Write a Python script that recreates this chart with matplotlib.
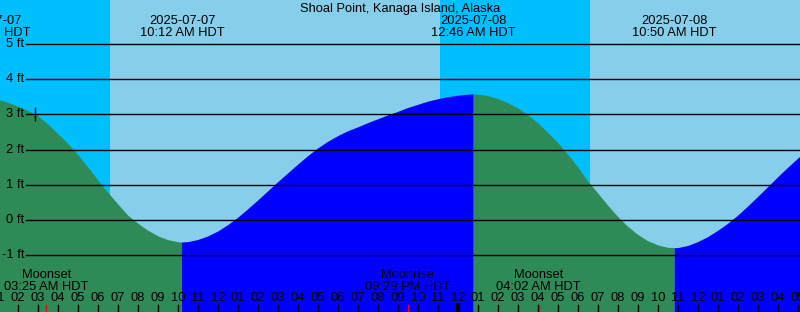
import numpy as np
import matplotlib
matplotlib.use("Agg")
import matplotlib.pyplot as plt

plt.rcParams['font.family'] = ['Liberation Sans', 'DejaVu Sans']

title = 'Shoal Point, Kanaga Island, Alaska'

# hours since 2025-07-07 00:00 HDT, tide height in ft
hours = [1.0, 1.5, 2.0, 2.5, 3.0, 3.5, 4.0, 4.5, 5.0, 5.5, 6.0, 6.5, 7.0, 7.5,
         8.0, 8.5, 9.0, 9.5, 10.0, 10.2, 10.5, 11.0, 11.5, 12.0, 12.5, 13.0,
         13.5, 14.0, 14.5, 15.0, 15.5, 16.0, 16.5, 17.0, 17.5, 18.0, 18.5,
         19.0, 19.5, 20.0, 20.5, 21.0, 21.5, 22.0, 22.5, 23.0, 23.5, 24.0,
         24.5, 24.77, 25.0, 25.5, 26.0, 26.5, 27.0, 27.5, 28.0, 28.5, 29.0,
         29.5, 30.0, 30.5, 31.0, 31.5, 32.0, 32.5, 33.0, 33.5, 34.0, 34.5,
         34.83, 35.0, 35.5, 36.0, 36.5, 37.0, 37.5, 38.0, 38.5, 39.0, 39.5,
         40.0, 40.5, 41.0, 41.5, 42.0]
heights = [3.42, 3.33, 3.22, 3.10, 2.95, 2.72, 2.45, 2.17, 1.85, 1.50, 1.13,
           0.78, 0.45, 0.13, -0.10, -0.30, -0.46, -0.57, -0.63, -0.64, -0.63,
           -0.57, -0.47, -0.33, -0.15, 0.06, 0.30, 0.55, 0.81, 1.07, 1.32,
           1.57, 1.81, 2.03, 2.22, 2.38, 2.52, 2.63, 2.75, 2.86, 2.97, 3.07,
           3.18, 3.27, 3.36, 3.43, 3.49, 3.53, 3.56, 3.57, 3.56, 3.52, 3.44,
           3.32, 3.17, 2.98, 2.75, 2.48, 2.19, 1.86, 1.50, 1.10, 0.76, 0.41,
           0.09, -0.19, -0.42, -0.60, -0.72, -0.79, -0.80, -0.80, -0.74, -0.63,
           -0.49, -0.31, -0.11, 0.12, 0.38, 0.65, 0.93, 1.21, 1.48, 1.74, 1.98,
           2.20]

# tide events (hour, date label, time label)
tide_hours = [0.5, 10.2, 24.77, 34.83]
tide_dates = ['2025-07-07', '2025-07-07', '2025-07-08', '2025-07-08']
tide_times = ['12:30 AM HDT', '10:12 AM HDT', '12:46 AM HDT', '10:50 AM HDT']

# day / night
sun_hours = [6.6, 23.1, 30.6]   # sunrise, sunset, sunrise

# moon events
moon_hours = [3.417, 21.483, 28.033]
moon_names = ['Moonset', 'Moonrise', 'Moonset']
moon_times = ['03:25 AM HDT', '09:29 PM HDT', '04:02 AM HDT']

now_hour, now_height = 2.85, 3.0
levels = [-1, 0, 1, 2, 3, 4, 5]

x0, x1 = 1.1, 41.1
y0, y1 = -2.614, 6.25

day_c, night_c = '#87CEEB', '#00BFFF'
fall_c, rise_c = '#2E8B57', '#0000FF'
fs = 9.3

fig = plt.figure(figsize=(8, 3.12), dpi=100)
ax = fig.add_axes([0, 0, 1, 1])
ax.set_xlim(x0, x1)
ax.set_ylim(y0, y1)
ax.axis('off')

# sky
ax.axvspan(x0 - 2, sun_hours[0], color=night_c, lw=0)
ax.axvspan(sun_hours[0], sun_hours[1], color=day_c, lw=0)
ax.axvspan(sun_hours[1], sun_hours[2], color=night_c, lw=0)
ax.axvspan(sun_hours[2], x1 + 2, color=day_c, lw=0)

# water
h = np.array(hours)
t = np.array(heights)
falling = (h <= tide_hours[1]) | ((h >= tide_hours[2]) & (h <= tide_hours[3]))
rising = ~falling | np.isin(h, tide_hours)
ax.fill_between(h, y0 - 1, t, where=falling, color=fall_c, lw=0)
ax.fill_between(h, y0 - 1, t, where=rising, color=rise_c, lw=0)

# height lines
ytr = ax.get_yaxis_transform()
for lv in levels:
    ax.axhline(lv, xmin=26 / 800, xmax=1, color='black', lw=1.0)
    ax.text(24 / 800, lv, f'{lv} ft', transform=ytr, ha='right', va='center', fontsize=fs)

ax.plot([now_hour], [now_height], marker='|', color='black', ms=10, mew=1.0)

# titles
ax.text(0.5, 0.972, title, transform=ax.transAxes, ha='center', va='center', fontsize=fs)
xtr = ax.get_xaxis_transform()
for hr, d, tm in zip(tide_hours, tide_dates, tide_times):
    ax.text(hr, 0.913, d + '\n' + tm, transform=xtr, ha='center', va='center',
            fontsize=fs, linespacing=0.95, clip_on=False)

# hour ticks
for hr in range(1, 43):
    lab = '%02d' % ((hr - 1) % 12 + 1)
    ax.text(hr, 0.045, lab, transform=xtr, ha='center', va='center', fontsize=fs)
    if hr % 24 == 0:
        ax.plot([hr, hr], [0, 0.03], transform=xtr, color='black', lw=3, solid_capstyle='butt')
    else:
        ax.plot([hr, hr], [0, 0.022], transform=xtr, color='black', lw=1)

# moon
for hr, nm, tm in zip(moon_hours, moon_names, moon_times):
    ax.text(hr, 0.1, nm + '\n' + tm, transform=xtr, ha='center', va='center',
            fontsize=fs, linespacing=0.95)
    ax.plot([hr, hr], [0, 0.022], transform=xtr, color='red', lw=1)

fig.savefig('out.png', dpi=100)
